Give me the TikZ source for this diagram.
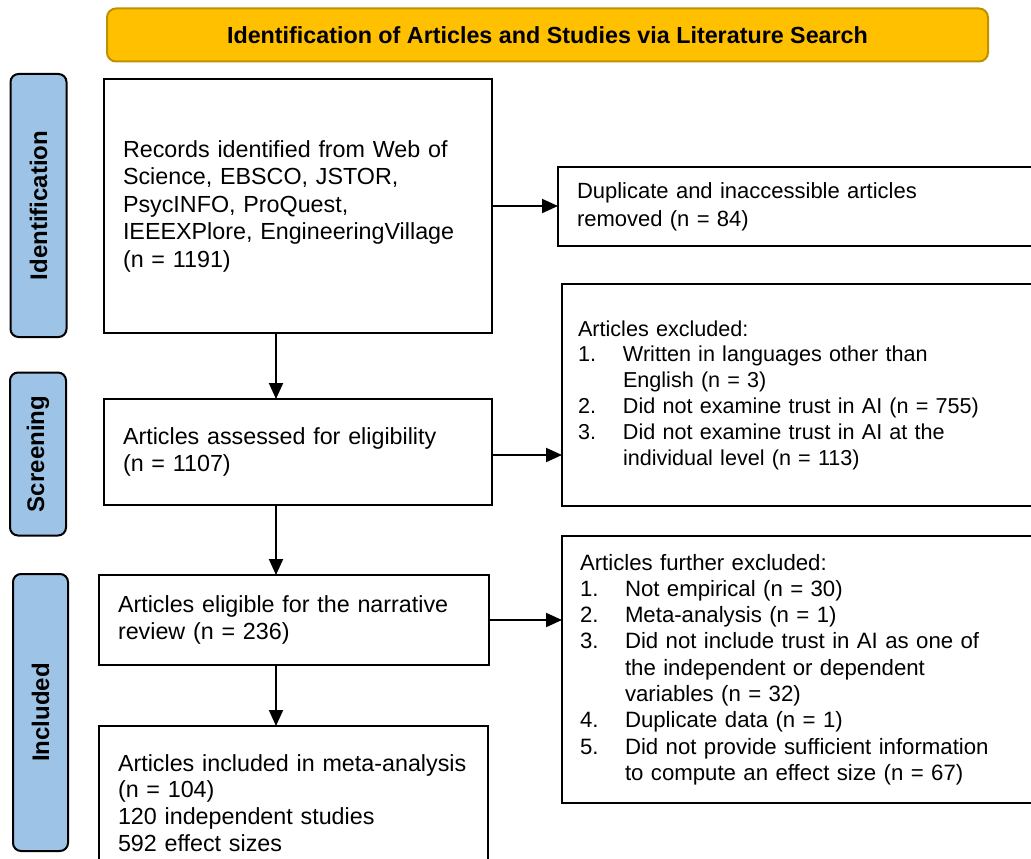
\documentclass[tikz,border=0pt]{standalone}
\usepackage{fontspec}
\setmainfont{Liberation Sans}
\usetikzlibrary{arrows.meta}

\definecolor{bannerfill}{RGB}{255,192,0}
\definecolor{bannerline}{RGB}{191,144,0}
\definecolor{phasefill}{RGB}{157,195,230}

% list helpers: number column and continuation indent
\newcommand\itm[1]{\makebox[45pt][l]{#1}}
\newcommand\cont{\hspace*{45pt}}

\begin{document}
\begin{tikzpicture}[x=1pt,y=-1pt,
  every node/.style={outer sep=0pt},
  flowbox/.style={draw=black, line width=2pt, fill=white, anchor=north west,
    inner xsep=19pt, inner ysep=0pt, align=left,
    font=\fontsize{23.3}{27.5}\selectfont},
  phase/.style={draw=black, line width=2pt, fill=phasefill, rounded corners=8pt,
    rotate=90, inner sep=0pt, font=\bfseries\fontsize{24}{28}\selectfont},
  banner/.style={draw=bannerline, line width=2pt, fill=bannerfill, rounded corners=9pt,
    inner sep=0pt, font=\bfseries\fontsize{23.3}{27}\selectfont},
  conn/.style={line width=2pt, -{Triangle[length=16pt,width=14pt]}}
]
\path[use as bounding box] (0,0) rectangle (1031,859);
\fill[white] (0,0) rectangle (1031,859);
\clip (0,0) rectangle (1031,859);

% header
\node[banner, minimum width=881, minimum height=53] (head) at (547.5,35)
  {Identification of Articles and Studies via Literature Search};

% phase labels
\node[phase, minimum width=263, minimum height=56] (pid) at (38.5,205.5) {Identification};
\node[phase, minimum width=163, minimum height=56] (pscr) at (38,454) {Screening};
\node[phase, minimum width=277, minimum height=55] (pinc) at (40.5,712.5) {Included};

% main column
\node[flowbox, minimum width=388, minimum height=254, text width=350] (rec) at (104,79)
  {Records identified from Web of\\Science, EBSCO, JSTOR,\\PsycINFO, ProQuest,\\IEEEXPlore, EngineeringVillage\\(n = 1191)};
\node[flowbox, minimum width=388, minimum height=106, text width=350] (assess) at (104,399)
  {Articles assessed for eligibility\\(n = 1107)};
\node[flowbox, minimum width=390, minimum height=90, text width=352] (elig) at (99,575)
  {Articles eligible for the narrative\\review (n = 236)};
\node[flowbox, minimum width=389, minimum height=154, text width=351,
  font=\fontsize{23.3}{26.8}\selectfont] (incl) at (99,726)
  {Articles included in meta-analysis\\(n = 104)\\120 independent studies\\592 effect sizes};

% exclusion column
\node[flowbox, minimum width=502, minimum height=79, text width=464,
  font=\fontsize{22}{28}\selectfont] (dup) at (558,167)
  {Duplicate and inaccessible articles\\removed (n = 84)};
\node[flowbox, minimum width=498, minimum height=222, text width=466, inner xsep=16pt,
  font=\fontsize{21.6}{25.8}\selectfont] (excl) at (562,284)
  {Articles excluded:\\
   \itm{1.}Written in languages other than\\
   \cont English (n = 3)\\
   \itm{2.}Did not examine trust in AI (n = 755)\\
   \itm{3.}Did not examine trust in AI at the\\
   \cont individual level (n = 113)};
\node[flowbox, minimum width=498, minimum height=267, text width=462, inner xsep=18pt,
  font=\fontsize{22.2}{26.3}\selectfont] (fexcl) at (562,536)
  {Articles further excluded:\\
   \itm{1.}Not empirical (n = 30)\\
   \itm{2.}Meta-analysis (n = 1)\\
   \itm{3.}Did not include trust in AI as one of\\
   \cont the independent or dependent\\
   \cont variables (n = 32)\\
   \itm{4.}Duplicate data (n = 1)\\
   \itm{5.}Did not provide sufficient information\\
   \cont to compute an effect size (n = 67)};

% connectors
\coordinate (spine) at (276,0);
\draw[conn] (rec.south -| spine) -- (assess.north -| spine);
\draw[conn] (assess.south -| spine) -- (elig.north -| spine);
\draw[conn] (elig.south -| spine) -- (incl.north -| spine);
\draw[conn] (rec.east) -- (rec.east -| dup.west);
\draw[conn] ([yshift=-3pt]assess.east) -- ([yshift=-3pt]assess.east -| excl.west);
\draw[conn] (elig.east) -- (elig.east -| fexcl.west);
\end{tikzpicture}
\end{document}
